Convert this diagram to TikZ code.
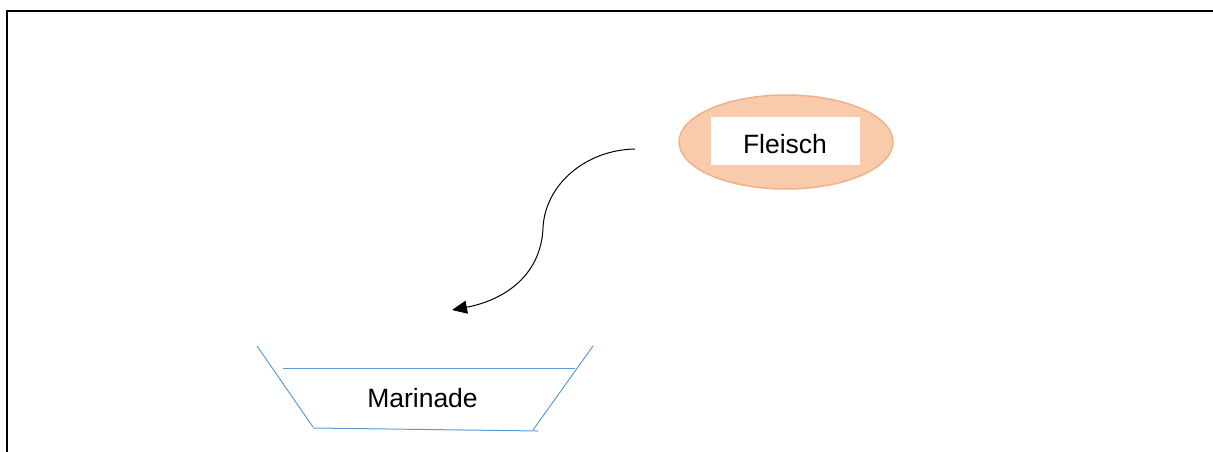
\documentclass[tikz,border=0pt]{standalone}
\usepackage{fontspec}
\setmainfont{Liberation Sans}
\usetikzlibrary{shapes.geometric,arrows.meta}
\definecolor{orfill}{HTML}{F8CBAD}
\definecolor{ordraw}{HTML}{F4B183}
\definecolor{bowlblue}{HTML}{5B9BD5}
\tikzset{
  lbl/.style={font=\fontsize{26.5}{31}\selectfont, text=black, inner sep=0pt},
  bowl/.style={draw=bowlblue, line width=1pt},
  frame/.style={draw=black, line width=2pt},
}
\begin{document}
\begin{tikzpicture}[x=1pt,y=-1pt]
\useasboundingbox (0,0) rectangle (1213,452);
% frame
\draw[frame] (7,452) -- (7,11) -- (1213,11);
% Fleisch ellipse
\node[ellipse, draw=ordraw, fill=orfill, line width=1.5pt, minimum width=214pt, minimum height=94pt, inner sep=0pt] (fl) at (786,142) {};
\node[fill=white, minimum width=149pt, minimum height=48pt, inner sep=0pt] (flbox) at (785.5,141) {};
\node[lbl] (fltext) at (785,144) {Fleisch};
% arrow
\coordinate (as) at (635,149);
\coordinate (am) at (543,228);
\coordinate (ae) at (452,310);
\draw[line width=1pt, -{Triangle[length=15pt,width=13pt]}] (as) .. controls (585,150) and (545,185) .. (am) .. controls (541,275) and (505,300) .. (ae);
% bowl
\coordinate (b1) at (257,346);
\coordinate (b2) at (313,427);
\coordinate (b3) at (593,346);
\coordinate (b4) at (533,430);
\coordinate (t1) at (283,368);
\coordinate (t2) at (575,368);
\coordinate (u1) at (313,428);
\coordinate (u2) at (538,431);
\draw[bowl] (b1) -- (b2);
\draw[bowl] (b3) -- (b4);
\draw[bowl] (t1) -- (t2);
\draw[bowl] (u1) -- (u2);
\node[lbl] (mar) at (422.5,398) {Marinade};
\end{tikzpicture}
\end{document}
